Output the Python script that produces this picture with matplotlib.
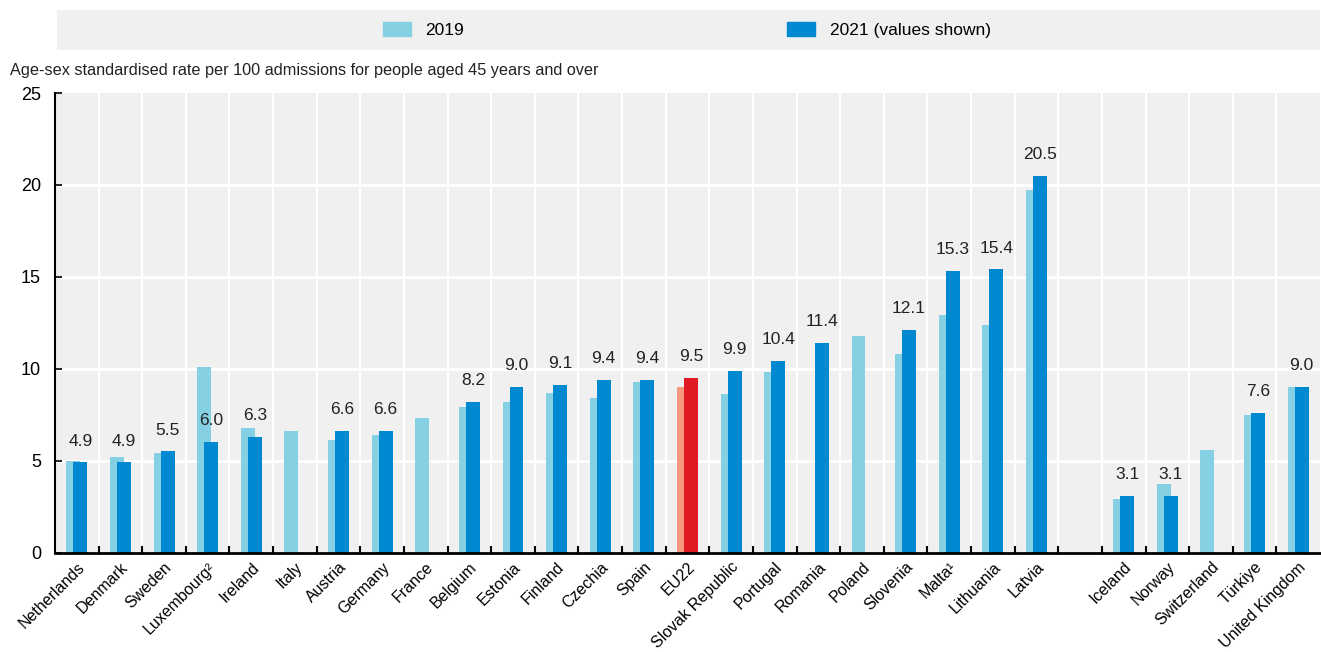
import numpy as np
import matplotlib.pyplot as plt
from matplotlib.patches import Rectangle, Patch

plt.rcParams['font.family'] = ['Liberation Sans', 'DejaVu Sans']

countries = ['Netherlands', 'Denmark', 'Sweden', 'Luxembourg²', 'Ireland', 'Italy', 'Austria',
             'Germany', 'France', 'Belgium', 'Estonia', 'Finland', 'Czechia', 'Spain', 'EU22',
             'Slovak Republic', 'Portugal', 'Romania', 'Poland', 'Slovenia', 'Malta¹', 'Lithuania',
             'Latvia', '', 'Iceland', 'Norway', 'Switzerland', 'Türkiye', 'United Kingdom']
v2019 = [5.0, 5.2, 5.4, 10.1, 6.8, 6.6, 6.1, 6.4, 7.3, 7.9, 8.2, 8.7, 8.4, 9.3, 9.0,
         8.6, 9.8, np.nan, 11.8, 10.8, 12.9, 12.4, 19.7, np.nan, 2.9, 3.7, 5.6, 7.5, 9.0]
v2021 = [4.9, 4.9, 5.5, 6.0, 6.3, np.nan, 6.6, 6.6, np.nan, 8.2, 9.0, 9.1, 9.4, 9.4, 9.5,
         9.9, 10.4, 11.4, np.nan, 12.1, 15.3, 15.4, 20.5, np.nan, 3.1, 3.1, np.nan, 7.6, 9.0]

light = '#85D1E3'
dark = '#0088D0'
eu_light = '#F5987D'
eu_dark = '#E01A22'

fig = plt.figure(figsize=(13.21, 6.52), dpi=100)
ax = fig.add_axes([55/1321, (652-552.5)/652, 1265/1321, (552.5-93)/652])
ax.set_facecolor('#F0F0F0')

x = np.arange(len(countries))
w = 0.32
c19 = [eu_light if c == 'EU22' else light for c in countries]
c21 = [eu_dark if c == 'EU22' else dark for c in countries]
ax.bar(x - 0.08, v2019, width=w, color=c19, zorder=2)
ax.bar(x + 0.08, v2021, width=w, color=c21, zorder=3)

for xi, v in zip(x, v2021):
    if not np.isnan(v):
        ax.annotate(f'{v:.1f}', (xi + 0.08, v), xytext=(0, 10), textcoords='offset points',
                    ha='center', va='bottom', fontsize=12.5, color='#222222')

ax.set_xlim(-0.5, len(countries) - 0.5)
ax.set_ylim(0, 25)
ax.set_yticks([0, 5, 10, 15, 20, 25])
ax.tick_params(axis='y', direction='in', length=5, width=1.2, labelsize=13, pad=10)
ax.set_xticks(x)
ax.set_xticklabels(countries, rotation=45, ha='right', rotation_mode='anchor', fontsize=11.5)
ax.tick_params(axis='x', length=0, pad=5)
ax.set_xticks(x[:-1] + 0.5, minor=True)
ax.tick_params(axis='x', which='minor', direction='in', length=5, width=1.5)

for b in x[:-1] + 0.5:
    ax.axvline(b, color='white', lw=1.5, zorder=1)
for yv in [5, 10, 15, 20]:
    ax.axhline(yv, color='white', lw=2, zorder=1)

for s in ['top', 'right']:
    ax.spines[s].set_visible(False)
ax.spines['left'].set_linewidth(1.5)
ax.spines['bottom'].set_linewidth(2)
ax.spines['bottom'].set_zorder(4)

fig.text(10/1321, 1 - 70/652, 'Age-sex standardised rate per 100 admissions for people aged 45 years and over',
         fontsize=11.7, va='center', ha='left', color='#222222')

fig.patches.append(Rectangle((57/1321, 1 - 50/652), 1263/1321, 40/652,
                             transform=fig.transFigure, facecolor='#F0F0F0', edgecolor='none', zorder=0))
handles = [Patch(color=light, label='2019'), Patch(color=dark, label='2021 (values shown)')]
fig.legend(handles=handles, loc='center left', bbox_to_anchor=(383/1321, 1 - 30/652), ncol=2,
           frameon=False, fontsize=12.5, handlelength=1.6, handleheight=0.9, handletextpad=0.85,
           columnspacing=18.6, borderpad=0, borderaxespad=0)

fig.savefig('out.png', dpi=100, facecolor='white')
